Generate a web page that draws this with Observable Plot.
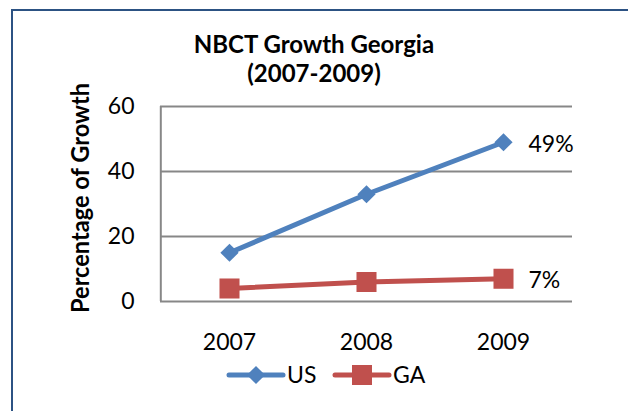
<!DOCTYPE html>
<html>
<head>
<meta charset="utf-8">
<script src="https://cdn.jsdelivr.net/npm/d3@7"></script>
<script src="https://cdn.jsdelivr.net/npm/@observablehq/plot@0.6"></script>
<style>
  html, body { margin: 0; padding: 0; background: #fff; overflow: hidden; }
  #chart { width: 628px; height: 411px; }
  svg { font-family: Lato, "Open Sans", sans-serif; }
</style>
</head>
<body>
<div id="chart"></div>
<script>
// ---- data ----
const years = ["2007", "2008", "2009"];
const seriesNames = ["US", "GA"];
const usValues = [15, 33, 49];
const gaValues = [4, 6, 7];
const seriesColors = ["#4F81BD", "#C0504D"];
const seriesSymbols = ["diamond2", "square"];
const yTicks = [0, 20, 40, 60];
const endLabels = ["49%", "7%"];
const titleLines = ["NBCT Growth Georgia", "(2007-2009)"];
const yLabel = "Percentage of Growth";

const rows = [];
years.forEach((y, i) => {
  rows.push({year: y, value: usValues[i], series: "US"});
  rows.push({year: y, value: gaValues[i], series: "GA"});
});
const lastRows = seriesNames.map((s, k) => ({
  year: years[years.length - 1],
  value: (k === 0 ? usValues : gaValues)[years.length - 1],
  label: endLabels[k],
  series: s
}));

const grid = "#878787";
const fs = 23;

const plot = Plot.plot({
  width: 628,
  height: 411,
  marginLeft: 160,
  marginRight: 56,
  marginTop: 106,
  marginBottom: 110,
  style: {fontFamily: "Lato, 'Open Sans', sans-serif", fontSize: fs + "px", color: "#000", background: "transparent"},
  x: {type: "point", domain: years, padding: 0.5, label: null},
  y: {domain: [0, 60], ticks: yTicks, label: null},
  color: {domain: seriesNames, range: seriesColors},
  symbol: {domain: seriesNames, range: seriesSymbols},
  marks: [
    Plot.ruleY(yTicks, {stroke: grid, strokeWidth: 2}),
    Plot.ruleX([0], {x: () => years[0], dx: -68.7, y1: 0, y2: 60, stroke: grid, strokeWidth: 2}),
    Plot.axisY({ticks: yTicks, tickSize: 0, tickPadding: 26, fontSize: fs, label: null}),
    Plot.axisX({tickSize: 0, tickPadding: 32, fontSize: fs, label: null}),
    Plot.line(rows, {x: "year", y: "value", z: "series", stroke: "series", strokeWidth: 5, strokeLinejoin: "round"}),
    Plot.dot(rows.filter(d => d.series === "US"), {x: "year", y: "value", symbol: "series", fill: "series", stroke: "none", r: 8.2}),
    Plot.dot(rows.filter(d => d.series === "GA"), {x: "year", y: "value", symbol: "series", fill: "series", stroke: "none", r: 11.3}),
    Plot.text(lastRows, {x: "year", y: "value", text: "label", textAnchor: "start", dx: 25, dy: 2, fontSize: fs, fill: "#000"})
  ]
});

document.getElementById("chart").appendChild(plot);

// overlays: border, title, y label, legend
const svg = d3.select(plot);
const border = "#2C5283";
svg.append("path").attr("d", "M12,420 V10 H640").attr("fill", "none").attr("stroke", border).attr("stroke-width", 2);

const t = svg.append("text").attr("text-anchor", "middle").attr("font-weight", "bold").attr("font-size", 24).attr("fill", "#000");
titleLines.forEach((line, i) => {
  t.append("tspan").attr("x", 314).attr("y", 53 + i * 29).text(line);
});

svg.append("text")
  .attr("transform", "translate(89,198) rotate(-90)")
  .attr("text-anchor", "middle")
  .attr("font-weight", "bold")
  .attr("font-size", 24)
  .attr("textLength", 230)
  .attr("lengthAdjust", "spacingAndGlyphs")
  .attr("fill", "#000")
  .text(yLabel);

// legend
const legendX = [229, 335];
const lg = svg.append("g").attr("text-anchor", "start");
seriesNames.forEach((name, k) => {
  const x0 = legendX[k];
  const cy = 375;
  lg.append("line").attr("x1", x0).attr("x2", x0 + 54).attr("y1", cy).attr("y2", cy)
    .attr("stroke", seriesColors[k]).attr("stroke-width", 5).attr("stroke-linecap", "round");
  const sym = k === 0 ? d3.symbolDiamond2 : d3.symbolSquare;
  const size = k === 0 ? Math.PI * 8.2 * 8.2 : Math.PI * 11.3 * 11.3;
  lg.append("path").attr("d", d3.symbol(sym, size)()).attr("transform", `translate(${x0 + 27},${cy})`)
    .attr("fill", seriesColors[k]);
  lg.append("text").attr("x", x0 + 58).attr("y", cy).attr("dy", "0.36em").attr("font-size", fs)
    .attr("text-anchor", "start").attr("fill", "#000").text(name);
});
</script>
</body>
</html>
